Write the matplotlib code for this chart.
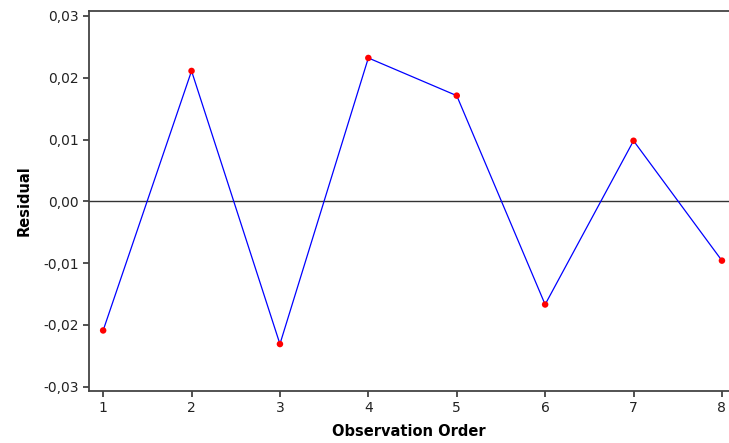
import matplotlib
matplotlib.use("Agg")
import matplotlib.pyplot as plt
from matplotlib.ticker import FuncFormatter

order = [1, 2, 3, 4, 5, 6, 7, 8]
residual = [-0.0209, 0.0211, -0.0231, 0.0232, 0.0171, -0.0167, 0.0098, -0.0096]
yticks = [-0.03, -0.02, -0.01, 0.0, 0.01, 0.02, 0.03]

fig = plt.figure(figsize=(7.29, 4.43), dpi=100)
ax = fig.add_axes([89/729, 52/443, 640/729, 380/443])

ax.axhline(0, color="#333333", lw=1)
ax.plot(order, residual, color="blue", lw=0.9, zorder=2)
ax.scatter(order, residual, color="red", s=22, zorder=3, edgecolors="none", clip_on=False)

ax.set_xlim(0.84, 8.08)
ax.set_ylim(-0.0307, 0.0308)
ax.set_xticks(order)
ax.set_yticks(yticks)
ax.yaxis.set_major_formatter(FuncFormatter(lambda v, p: f"{v:.2f}".replace(".", ",").replace("-0,00", "0,00")))

for s in ax.spines.values():
    s.set_color("#444444")
    s.set_linewidth(1.3)
ax.spines["right"].set_visible(False)
ax.tick_params(labelsize=10, colors="#222222", length=4, width=1.1)

ax.set_ylabel("Residual", fontsize=10.5, fontweight="bold", labelpad=8)
ax.set_xlabel("Observation Order", fontsize=10.5, fontweight="bold", labelpad=6)

fig.savefig("out.png", dpi=100)
